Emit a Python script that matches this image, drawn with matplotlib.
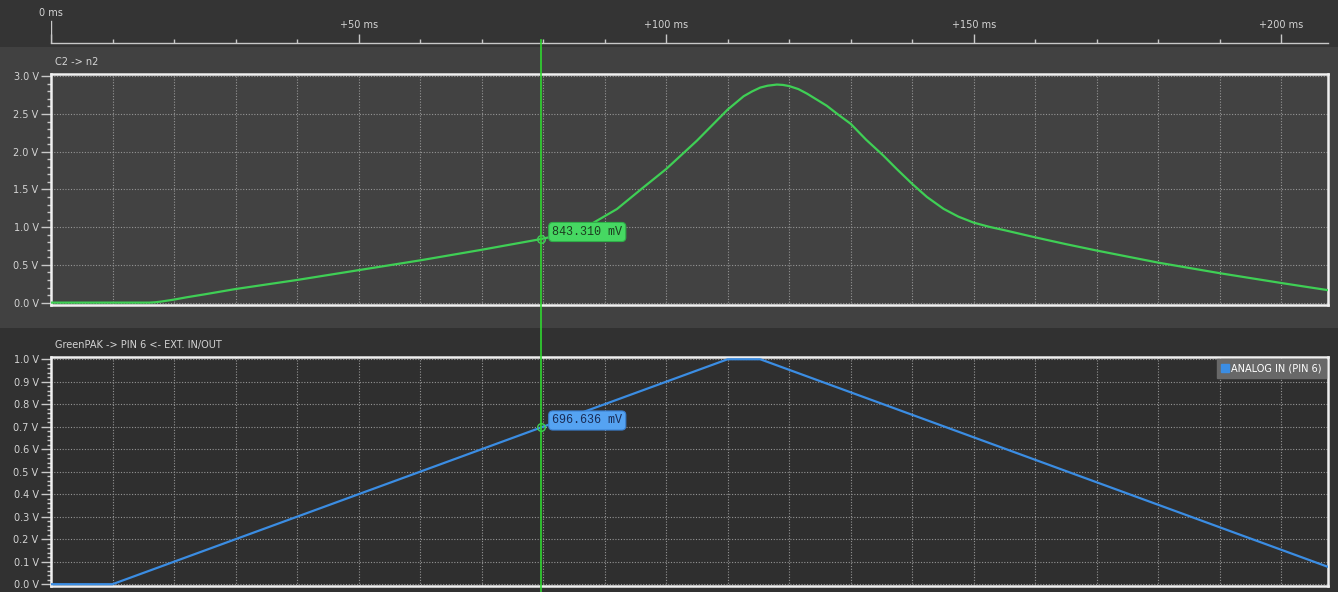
import matplotlib
matplotlib.use("Agg")
import matplotlib.pyplot as plt
import matplotlib.transforms as mtransforms
from matplotlib.lines import Line2D
from matplotlib.patches import Rectangle
from matplotlib.ticker import MultipleLocator, FuncFormatter

green_t = [0, 16, 17, 18, 20, 22, 25, 30, 40, 50, 60, 70, 79.7, 84, 88, 92, 96.3, 100,
           105, 110, 111.5, 112.6, 114, 115.3, 116.5, 118, 119, 120, 121.5, 122.9, 124.5,
           126.1, 128, 130, 132.5, 135.3, 137.5, 140, 142.4, 145.1, 147.5, 150, 152.5,
           155, 160, 165, 170, 180, 190, 200, 207.6]
green_v = [0, 0, 0.005, 0.015, 0.04, 0.07, 0.11, 0.18, 0.30, 0.43, 0.56, 0.70, 0.843,
           0.92, 1.05, 1.24, 1.527, 1.77, 2.146, 2.558, 2.66, 2.735, 2.80, 2.85, 2.875,
           2.89, 2.885, 2.87, 2.83, 2.77, 2.69, 2.61, 2.49, 2.37, 2.16, 1.95, 1.77, 1.574,
           1.40, 1.243, 1.14, 1.06, 1.005, 0.96, 0.865, 0.775, 0.69, 0.53, 0.39, 0.26, 0.165]

blue_t = [0, 10, 110, 115.3, 207.6]
blue_v = [0, 0, 1.0, 1.0, 0.077]

cursor_t = 79.7
cursor_green = 0.843310
cursor_blue = 0.696636

top_title = "C2 -> n2"
bottom_title = "GreenPAK -> PIN 6 <- EXT. IN/OUT"
legend_label = "ANALOG IN (PIN 6)"
ruler_ticks = [0, 50, 100, 150, 200]

GREEN = "#3fcf55"
BLUE = "#3b8de3"
TXT = "#d4d4d4"
GRIDC = "#959595"

W, H = 1338, 592
fig = plt.figure(figsize=(W / 100, H / 100), dpi=100)
fig.set_facecolor("#313131")

# panel backgrounds (behind the axes)
fig.patches.append(Rectangle((0, 1 - 47 / H), 1, 47 / H, transform=fig.transFigure,
                             fc="#343434", ec="none", zorder=-5))
fig.patches.append(Rectangle((0, 1 - 328 / H), 1, (328 - 47) / H, transform=fig.transFigure,
                             fc="#414141", ec="none", zorder=-5))

left = 51 / W
width = (1328 - 51) / W
xmax = 207.6


def style_panel(ax, face, ymin, ymax, major, minor):
    ax.set_facecolor(face)
    ax.set_xlim(0, xmax)
    ax.set_ylim(ymin, ymax)
    ax.xaxis.set_major_locator(MultipleLocator(10))
    ax.tick_params(axis="x", length=0, labelbottom=False)
    ax.yaxis.set_major_locator(MultipleLocator(major))
    ax.yaxis.set_minor_locator(MultipleLocator(minor))
    ax.yaxis.set_major_formatter(FuncFormatter(lambda v, p: f"{v:.1f} V"))
    ax.tick_params(axis="y", which="major", length=7, width=1, color="#c8c8c8",
                   labelsize=7, labelcolor=TXT, pad=2)
    ax.tick_params(axis="y", which="minor", length=3, width=1, color="#c8c8c8")
    ax.grid(True, which="major", color=GRIDC, linestyle=(0, (1, 1.5)), linewidth=0.8)
    for s in ax.spines.values():
        s.set_color("#f0f0f0")
        s.set_linewidth(1.8)


# top panel
ax1 = fig.add_axes([left, 1 - 304.5 / H, width, 230.5 / H])
style_panel(ax1, "#424242", -0.025, 3.03, 0.5, 0.1)
ax1.plot(green_t, green_v, color=GREEN, lw=1.6, zorder=3)
ax1.plot([cursor_t], [cursor_green], marker="o", ms=5.5, mfc="none", mec=GREEN, mew=1, zorder=4)
ax1.annotate(f"{cursor_green * 1000:.3f} mV", xy=(cursor_t, cursor_green), xytext=(11, 7),
             textcoords="offset pixels", ha="left", va="center", family="Liberation Mono",
             fontsize=8.5, color="#1d3d20", zorder=5,
             bbox=dict(boxstyle="round,pad=0.3,rounding_size=0.35", fc="#46d862", ec="#2fae48", lw=0.8))

# bottom panel
ax2 = fig.add_axes([left, 1 - 586 / H, width, 229 / H])
style_panel(ax2, "#2f2f2f", -0.008, 1.01, 0.1, 0.02)
ax2.plot(blue_t, blue_v, color=BLUE, lw=1.6, zorder=3)
ax2.plot([cursor_t], [cursor_blue], marker="o", ms=5.5, mfc="none", mec=GREEN, mew=1, zorder=4)
ax2.annotate(f"{cursor_blue * 1000:.3f} mV", xy=(cursor_t, cursor_blue), xytext=(11, 7),
             textcoords="offset pixels", ha="left", va="center", family="Liberation Mono",
             fontsize=8.5, color="#1a2c55", zorder=5,
             bbox=dict(boxstyle="round,pad=0.3,rounding_size=0.35", fc="#55a3f2", ec="#3a7fd0", lw=0.8))
handle = Line2D([], [], marker="s", color=BLUE, linestyle="none", markersize=6)
leg = ax2.legend([handle], [legend_label], loc="upper right", fontsize=7, labelcolor="white",
                 frameon=True, facecolor="#686868", edgecolor="#686868", framealpha=1,
                 fancybox=False, borderaxespad=0.2, borderpad=0.45, handlelength=0.7,
                 handletextpad=0.3)
leg.set_zorder(6)

# panel titles
fig.text(55 / W, 1 - 62 / H, top_title, fontsize=7, color=TXT, va="center", ha="left")
fig.text(55 / W, 1 - 345 / H, bottom_title, fontsize=7, color=TXT, va="center", ha="left")

# time ruler on top
axr = fig.add_axes([left, 1 - 42.5 / H, width, 42.5 / H])
axr.set_xlim(0, xmax)
axr.set_ylim(0, 1)
axr.patch.set_visible(False)
for k in ["top", "left", "right"]:
    axr.spines[k].set_visible(False)
axr.spines["bottom"].set_color("#c8c8c8")
axr.spines["bottom"].set_linewidth(1)
axr.set_yticks([])
axr.xaxis.set_major_locator(MultipleLocator(50))
axr.xaxis.set_minor_locator(MultipleLocator(10))
axr.tick_params(axis="x", which="major", direction="in", length=6.5, width=1,
                color="#c8c8c8", labelbottom=False)
axr.tick_params(axis="x", which="minor", direction="in", length=3, width=1, color="#c8c8c8")
axr.axvline(0, ymin=0, ymax=0.5, color="#c8c8c8", lw=1)
for t in ruler_ticks:
    if t == 0:
        axr.text(t, 0.7, "0 ms", fontsize=7, color=TXT, ha="center", va="center")
    else:
        axr.text(t, 0.41, f"+{t} ms", fontsize=7, color=TXT, ha="center", va="center")

# cursor line across both panels
trans = mtransforms.blended_transform_factory(ax1.transData, fig.transFigure)
fig.add_artist(Line2D([cursor_t, cursor_t], [0, 1 - 40 / H], transform=trans,
                      color="#2fd62f", lw=1.2, zorder=10))

fig.savefig("out.png", dpi=100, facecolor=fig.get_facecolor())
